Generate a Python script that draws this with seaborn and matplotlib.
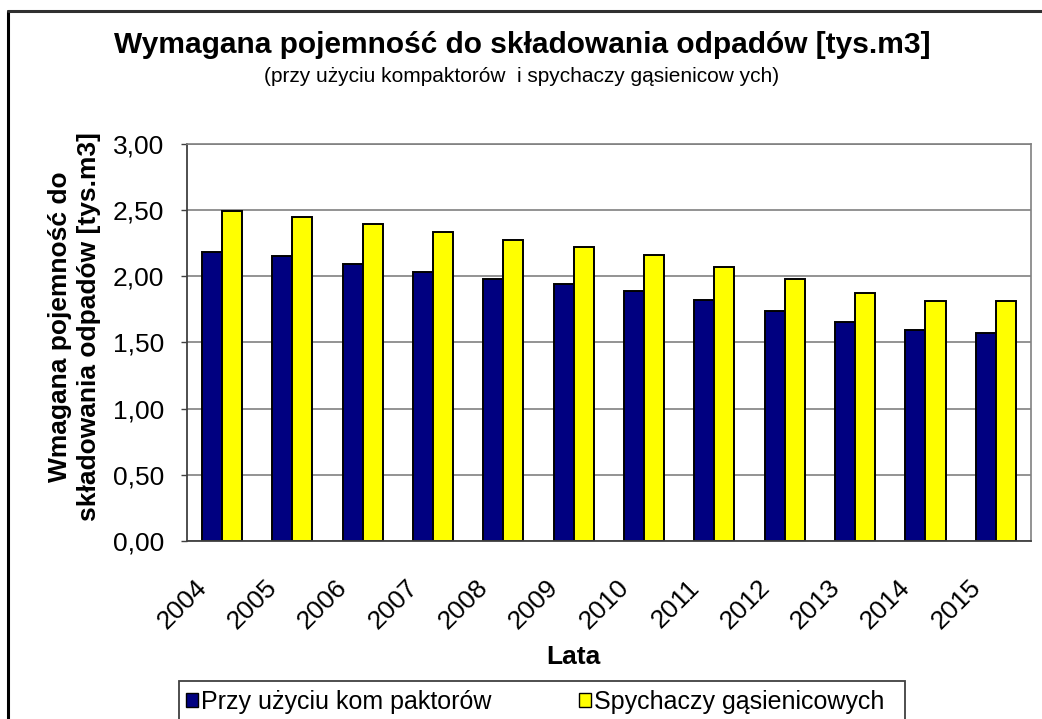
import pandas as pd
import matplotlib
matplotlib.use('Agg')
import matplotlib.pyplot as plt
import matplotlib.transforms as mtransforms
from matplotlib.lines import Line2D
from matplotlib.patches import Patch, Rectangle
import seaborn as sns

# data
lata = ['2004', '2005', '2006', '2007', '2008', '2009',
        '2010', '2011', '2012', '2013', '2014', '2015']
kompaktory = [2.18, 2.15, 2.09, 2.03, 1.98, 1.94, 1.89, 1.82, 1.74, 1.65, 1.59, 1.57]
spychacze = [2.49, 2.45, 2.39, 2.33, 2.27, 2.22, 2.16, 2.07, 1.98, 1.87, 1.81, 1.81]
serie = ['Przy użyciu kom paktorów', 'Spychaczy gąsienicowych']
kolory = ['#000080', '#FFFF00']

df = pd.DataFrame({'rok': lata * 2,
                   'seria': [serie[0]] * len(lata) + [serie[1]] * len(lata),
                   'wartosc': kompaktory + spychacze})

sns.set_style('white')
plt.rcParams['font.family'] = ['Liberation Sans', 'DejaVu Sans']
plt.rcParams['text.color'] = 'black'
plt.rcParams['axes.labelcolor'] = 'black'
plt.rcParams['xtick.labelcolor'] = 'black'
plt.rcParams['ytick.labelcolor'] = 'black'

W, H = 1042, 719
fig = plt.figure(figsize=(W / 100, H / 100), dpi=100)
ax = fig.add_axes([186.7 / W, 1 - 541 / H, (1031 - 186.7) / W, (541 - 143.7) / H])

sns.barplot(data=df, x='rok', y='wartosc', hue='seria', palette=kolory,
            width=0.57, edgecolor='black', linewidth=1.4, saturation=1,
            legend=False, ax=ax)

ax.set_ylim(0, 3)
ax.set_xlim(-0.5, len(lata) - 0.5)
ax.set_yticks([0, 0.5, 1, 1.5, 2, 2.5, 3])
ax.set_yticklabels(['0,00', '0,50', '1,00', '1,50', '2,00', '2,50', '3,00'], fontsize=19)
ax.yaxis.grid(True, color='#808080', linewidth=1.2)
ax.set_axisbelow(True)

# category ticks at boundaries, like excel
ax.set_xticks([i - 0.5 for i in range(len(lata) + 1)], minor=True)
ax.tick_params(axis='x', which='minor', length=4.5, width=1, color='#404040', direction='out')
ax.tick_params(axis='x', which='major', length=0, pad=0)
ax.set_xticklabels(lata, fontsize=19, rotation=45, ha='right', va='center',
                   rotation_mode='anchor')
przesun = mtransforms.ScaledTranslation(-19 / 100, -43 / 100, fig.dpi_scale_trans)
for lab in ax.get_xticklabels():
    lab.set_transform(lab.get_transform() + przesun)
ax.tick_params(axis='y', length=4.5, width=1, color='#404040', direction='out', pad=12)
ax.yaxis.set_ticks_position('left')

for s in ['left', 'bottom']:
    ax.spines[s].set_color('#404040')
    ax.spines[s].set_linewidth(1.3)
for s in ['top', 'right']:
    ax.spines[s].set_color('#808080')
    ax.spines[s].set_linewidth(1.2)

ax.set_xlabel('Lata', fontsize=19, fontweight='bold')
ax.xaxis.set_label_coords(0.4575, -0.262)
ax.set_ylabel('Wmagana pojemność do\nskładowania odpadów [tys.m3]',
              fontsize=19, fontweight='bold', linespacing=1.25)
ax.yaxis.set_label_coords(-0.1015, 0.54)

fig.text(522 / W, 1 - 45 / H, 'Wymagana pojemność do składowania odpadów [tys.m3]',
         ha='center', va='center', fontsize=21.5, fontweight='bold')
fig.text(522 / W, 1 - 76 / H, '(przy użyciu kompaktorów  i spychaczy gąsienicow ych)',
         ha='center', va='center', fontsize=15)

# legend box (runs off the bottom edge like in the original)
fig.add_artist(Rectangle((179 / W, -0.02), (905 - 179) / W, 1 - 681 / H + 0.02,
                         transform=fig.transFigure, facecolor='none',
                         edgecolor='#404040', linewidth=1.3))
uchwyty = [Patch(facecolor=c, edgecolor='black', linewidth=1.0) for c in kolory]
fig.legend(uchwyty, serie, loc='center left', ncol=2,
           bbox_to_anchor=(186 / W, 1 - 702 / H), fontsize=18, frameon=False,
           handlelength=0.5, handleheight=0.5, handletextpad=0.1,
           columnspacing=3.5, borderpad=0, borderaxespad=0)

# outer chart border
fig.add_artist(Line2D([8 / W, 8 / W], [0, 1 - 10.7 / H], color='black', linewidth=2.2))
fig.add_artist(Line2D([8 / W, 1], [1 - 10.7 / H, 1 - 10.7 / H], color='#303030', linewidth=2.2))

fig.savefig('out.png', dpi=100)
